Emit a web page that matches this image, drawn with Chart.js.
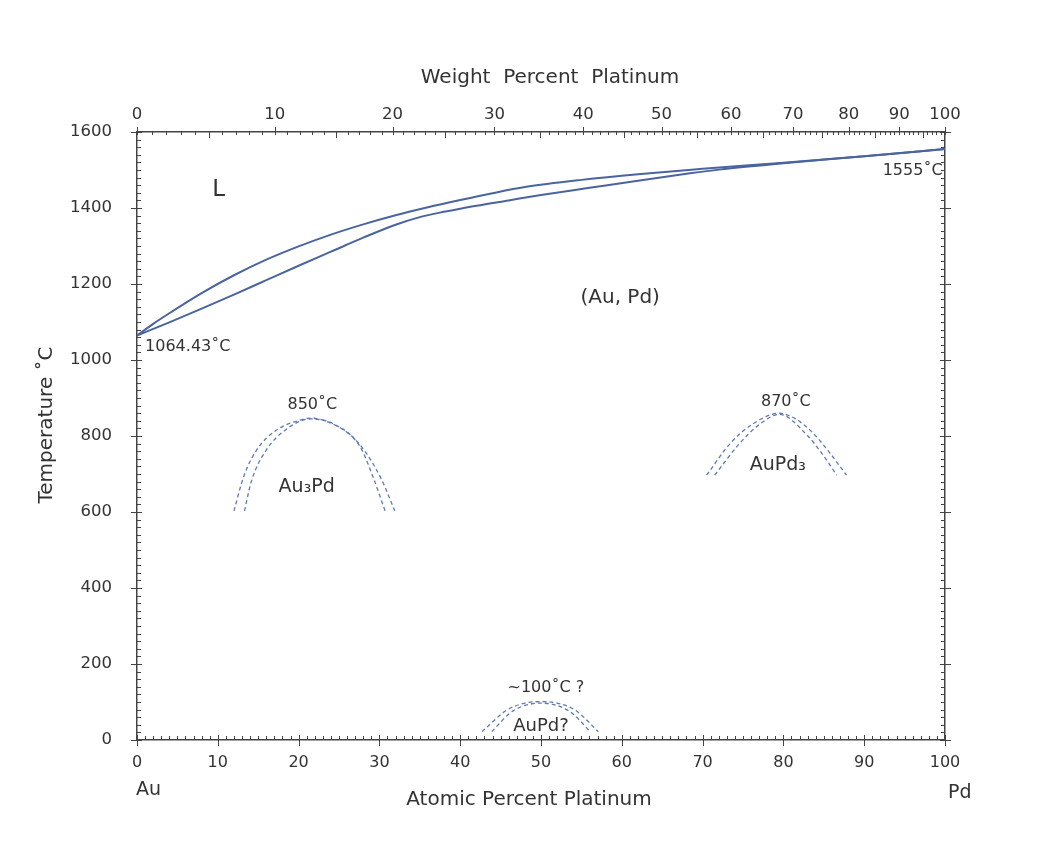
<!DOCTYPE html>
<html><head><meta charset="utf-8">
<script src="https://cdn.jsdelivr.net/npm/chart.js@4.4.1/dist/chart.umd.min.js"></script>
<style>html,body{margin:0;padding:0;background:#fff}#wrap{width:1042px;height:858px}</style>
</head><body><div id="wrap"><canvas id="c" width="1042" height="858"></canvas></div>
<script>
// ---- data (atomic % Pd, temperature °C) ----
const liquidusX = [0, 2, 4, 8, 12, 16, 20, 24, 28, 32, 36, 40, 44, 48, 55, 62, 70, 80, 90, 100];
const liquidusT = [1064.43, 1095, 1123, 1176, 1223, 1264, 1299, 1330, 1357, 1381, 1402, 1421, 1439, 1455, 1474, 1489, 1503, 1519, 1536, 1555];
const solidusX = [0, 4, 8, 12, 16, 20, 24, 28, 32, 35, 38, 42, 46, 50, 56, 62, 68, 72, 80, 90, 100];
const solidusT = [1064.43, 1099, 1135, 1172, 1210, 1248, 1285, 1322, 1356, 1376, 1390, 1406, 1420, 1434, 1453, 1472, 1490, 1501, 1518, 1536, 1555];

const au3pdOuterX = [12.0, 13.2, 14.8, 17.3, 20.2, 21.5, 23.5, 26.4, 28.4, 30.3, 31.9];
const au3pdOuterT = [603, 693, 763, 816, 842, 847, 838, 803, 754, 684, 603];
const au3pdInnerX = [13.3, 14.2, 16.0, 18.5, 21.5, 24.5, 27.6, 29.2, 30.7];
const au3pdInnerT = [603, 684, 763, 818, 845, 830, 772, 693, 603];

const aupd3OuterX = [70.5, 73.4, 76.3, 79.5, 81.5, 83.7, 85.8, 87.8];
const aupd3OuterT = [697, 780, 833, 860, 845, 807, 754, 697];
const aupd3InnerX = [71.5, 74.4, 77.0, 79.5, 82.9, 84.9, 86.6];
const aupd3InnerT = [697, 776, 830, 857, 803, 750, 697];

const aupdOuterX = [42.7, 45.8, 48, 50, 52, 54.2, 57.1];
const aupdOuterT = [22, 79, 97, 101, 97, 79, 22];
const aupdInnerX = [43.9, 46.5, 50, 53.5, 56.1];
const aupdInnerT = [22, 76, 97, 76, 22];

// ---- tick labels ----
const atomicTicks = [0, 10, 20, 30, 40, 50, 60, 70, 80, 90, 100];
const weightTicks = [0, 10, 20, 30, 40, 50, 60, 70, 80, 90, 100];
const tempTicks = [0, 200, 400, 600, 800, 1000, 1200, 1400, 1600];

// ---- annotations: [text, atomic %, temperature, align, size] ----
const labels = [
  ['L', 10.1, 1447, 'center', 23],
  ['(Au, Pd)', 59.8, 1163, 'center', 20],
  ['1064.43˚C', 1.0, 1034, 'left', 16],
  ['1555˚C', 99.7, 1497, 'right', 16],
  ['850˚C', 21.7, 882, 'center', 16],
  ['Au₃Pd', 21.0, 666, 'center', 19],
  ['870˚C', 80.3, 889, 'center', 16],
  ['AuPd₃', 79.3, 724, 'center', 19],
  ['~100˚C ?', 50.6, 137, 'center', 16],
  ['AuPd?', 50.0, 37, 'center', 18]
];

const AU = 196.97, PD = 106.42;
function wtToAt(w) { if (w <= 0) return 0; if (w >= 100) return 100; const a = w / PD, b = (100 - w) / AU; return 100 * a / (a + b); }
function pts(xs, ys) { return xs.map((x, i) => ({x: x, y: ys[i]})); }

const FONT = "'DejaVu Sans', 'Liberation Sans', sans-serif";
const TXT = '#333';
const AXIS = '#444';
const LINE = '#4a64a0';
const DASH = '#6079b0';

function solid(data) {
  return {data, showLine: true, borderColor: LINE, borderWidth: 2, pointRadius: 0, cubicInterpolationMode: 'monotone', fill: false};
}
function dashed(data) {
  return {data, showLine: true, borderColor: DASH, borderWidth: 1.3, borderDash: [4, 3], pointRadius: 0, cubicInterpolationMode: 'monotone', fill: false};
}

const tickPlugin = {
  id: 'ticksAndText',
  afterDraw(chart) {
    const ctx = chart.ctx;
    const xs = chart.scales.x, ys = chart.scales.y;
    const L = chart.chartArea.left, R = chart.chartArea.right, T = chart.chartArea.top, B = chart.chartArea.bottom;
    ctx.save();
    ctx.strokeStyle = AXIS;
    ctx.lineWidth = 1;
    ctx.beginPath();
    for (let v = 0; v <= 100; v++) {
      const px = Math.round(xs.getPixelForValue(v)) + 0.5;
      if (v % 10 === 0) { ctx.moveTo(px, B - 5); ctx.lineTo(px, B + 6); }
      else { ctx.moveTo(px, B); ctx.lineTo(px, B - 4); }
    }
    for (let t = 0; t <= 1600; t += 20) {
      const py = Math.round(ys.getPixelForValue(t)) + 0.5;
      if (t % 200 === 0) {
        ctx.moveTo(L - 6, py); ctx.lineTo(L + 5, py);
        ctx.moveTo(R - 5, py); ctx.lineTo(R + 6, py);
      } else {
        ctx.moveTo(L, py); ctx.lineTo(L + 4, py);
        ctx.moveTo(R, py); ctx.lineTo(R - 4, py);
      }
    }
    for (let w = 0; w <= 100; w++) {
      const px = Math.round(xs.getPixelForValue(wtToAt(w))) + 0.5;
      if (w % 10 === 0) { ctx.moveTo(px, T - 5); ctx.lineTo(px, T + 3); }
      else if (w % 5 === 0) { ctx.moveTo(px, T); ctx.lineTo(px, T + 6); }
      else { ctx.moveTo(px, T); ctx.lineTo(px, T + 3); }
    }
    ctx.stroke();

    ctx.fillStyle = TXT;
    ctx.textBaseline = 'middle';
    labels.forEach(([txt, x, t, al, sz]) => {
      ctx.font = sz + 'px ' + FONT;
      ctx.textAlign = al;
      ctx.fillText(txt, xs.getPixelForValue(x), ys.getPixelForValue(t));
    });
    ctx.textAlign = 'center';
    ctx.font = '20px ' + FONT;
    ctx.fillText('Weight  Percent  Platinum', 550, 78);
    ctx.font = '20px ' + FONT;
    ctx.fillText('Atomic Percent Platinum', 529, 800);
    ctx.font = '19px ' + FONT;
    ctx.textAlign = 'left';
    ctx.fillText('Au', 136, 790);
    ctx.fillText('Pd', 948, 793);
    ctx.save();
    ctx.translate(47, 425);
    ctx.rotate(-Math.PI / 2);
    ctx.textAlign = 'center';
    ctx.font = '20px ' + FONT;
    ctx.fillText('Temperature ˚C', 0, 0);
    ctx.restore();
    ctx.restore();
  }
};

Chart.defaults.font.family = FONT;
new Chart(document.getElementById('c'), {
  type: 'scatter',
  data: {
    datasets: [
      solid(pts(liquidusX, liquidusT)),
      solid(pts(solidusX, solidusT)),
      dashed(pts(au3pdOuterX, au3pdOuterT)),
      dashed(pts(au3pdInnerX, au3pdInnerT)),
      dashed(pts(aupd3OuterX, aupd3OuterT)),
      dashed(pts(aupd3InnerX, aupd3InnerT)),
      dashed(pts(aupdOuterX, aupdOuterT)),
      dashed(pts(aupdInnerX, aupdInnerT))
    ]
  },
  options: {
    responsive: false,
    animation: false,
    devicePixelRatio: 1,
    layout: {padding: 0},
    plugins: {legend: {display: false}, tooltip: {enabled: false}},
    scales: {
      x: {
        type: 'linear', position: 'bottom', min: 0, max: 100,
        afterBuildTicks: s => { s.ticks = atomicTicks.map(v => ({value: v})); },
        afterFit: s => { s.height = 118; },
        ticks: {color: TXT, font: {size: 16}, padding: 13, maxRotation: 0, autoSkip: false, callback: v => String(v)},
        grid: {display: false, drawTicks: false},
        border: {display: true, color: AXIS, width: 1.5}
      },
      x2: {
        type: 'linear', position: 'top', min: 0, max: 100,
        afterBuildTicks: s => { s.ticks = weightTicks.map(w => ({value: wtToAt(w)})); },
        afterFit: s => { s.height = 132; },
        ticks: {color: TXT, font: {size: 16.5}, padding: 7, maxRotation: 0, autoSkip: false,
          callback: (v, i) => String(weightTicks[i])},
        grid: {display: false, drawTicks: false},
        border: {display: true, color: AXIS, width: 1.5}
      },
      y: {
        type: 'linear', position: 'left', min: 0, max: 1600,
        afterBuildTicks: s => { s.ticks = tempTicks.map(v => ({value: v})); },
        afterFit: s => { s.width = 137; },
        ticks: {color: TXT, font: {size: 16.5}, padding: 25, callback: v => String(v)},
        grid: {display: false, drawTicks: false},
        border: {display: true, color: AXIS, width: 1.5}
      },
      y2: {
        type: 'linear', position: 'right', min: 0, max: 1600,
        afterFit: s => { s.width = 97; },
        ticks: {display: false},
        grid: {display: false, drawTicks: false},
        border: {display: true, color: AXIS, width: 1.5}
      }
    }
  },
  plugins: [tickPlugin]
});
</script>
</body></html>
